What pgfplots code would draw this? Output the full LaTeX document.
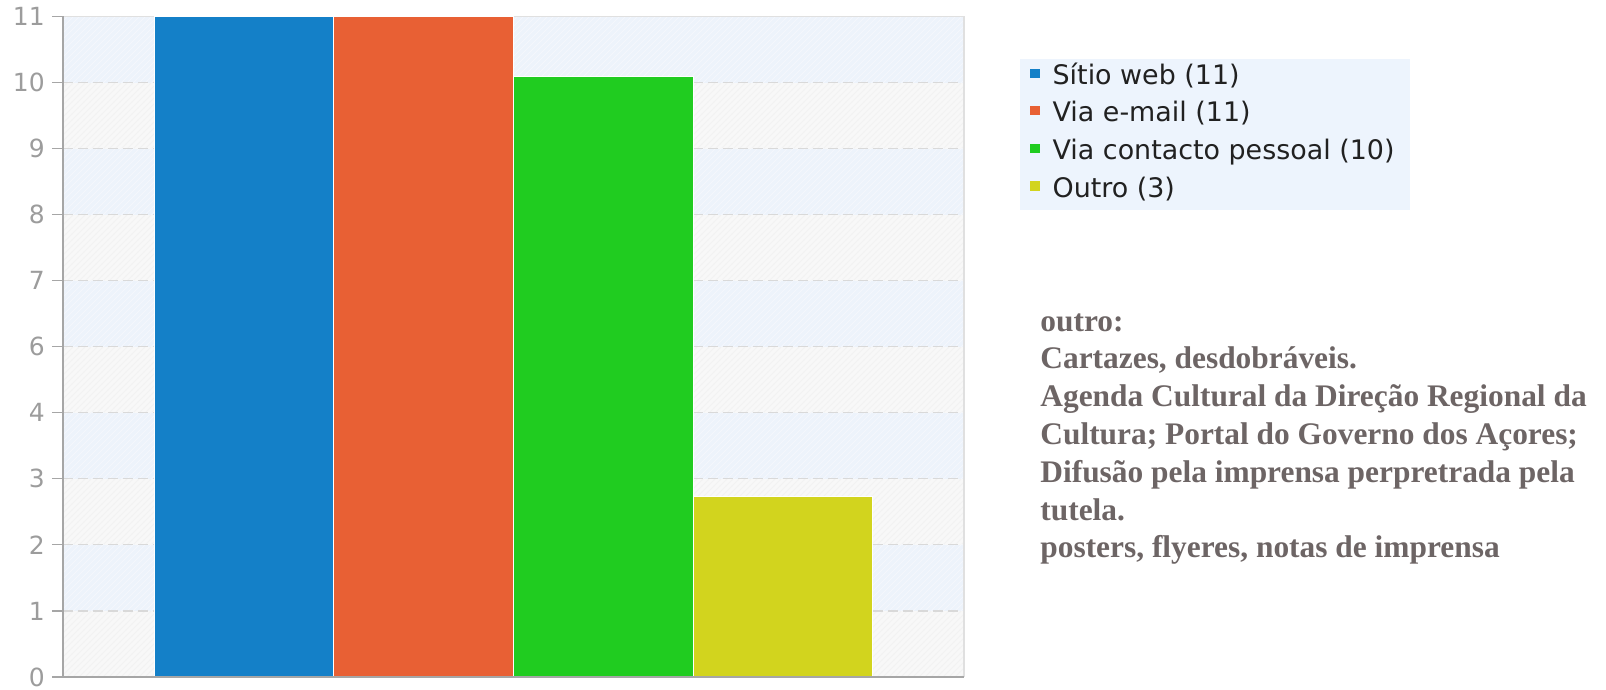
\documentclass[border=0pt]{standalone}
\usepackage{pgfplots}
\pgfplotsset{compat=1.18}
\usetikzlibrary{patterns}
\usepackage{fontspec}
\newfontfamily\dejavu{DejaVu Sans}
\newfontfamily\libserif{Liberation Serif}
\definecolor{cblue}{HTML}{1480C8}
\definecolor{corange}{HTML}{E86034}
\definecolor{cgreen}{HTML}{20CC20}
\definecolor{cyellow}{HTML}{D2D41E}
\definecolor{bandblue}{HTML}{EDF3FB}
\definecolor{bandgray}{HTML}{F8F8F8}
\definecolor{hatchc}{HTML}{F2F2F2}
\definecolor{hatchb}{HTML}{F4F7FC}
\definecolor{legbg}{HTML}{EDF4FD}
\definecolor{axgray}{HTML}{A6A6A6}
\definecolor{ticktext}{HTML}{9C9C9C}
\definecolor{gridc}{HTML}{D9D9D9}
\definecolor{borderc}{HTML}{E0E0E0}
\definecolor{notec}{HTML}{6D6565}
\begin{document}
\begin{tikzpicture}
\useasboundingbox (-31.5pt,-6.5pt) rectangle (771.5pt,338.5pt);
\begin{axis}[
  at={(0pt,0pt)}, anchor=south west,
  scale only axis, width=450.5pt, height=330.25pt,
  xmin=-1.007, xmax=4.007, ymin=0, ymax=11,
  xtick=\empty,
  ytick={0,1.1,2.2,3.3,4.4,5.5,6.6,7.7,8.8,9.9,11},
  yticklabels={0,1,2,3,4,6,7,8,9,10,11},
  yticklabel style={font=\dejavu\fontsize{12.5}{15}\selectfont, text=ticktext},
  axis on top,
  axis lines=left,
  axis line style={-, draw=axgray, line width=1.1pt},
  tick align=outside,
  major tick length=5.6pt,
  tick style={draw=axgray, line width=0.6pt},
  axis background/.style={fill=bandgray},
  clip=false,
  legend cell align=left,
  legend image code/.code={\fill[#1,draw=none] (0pt,-0.3pt) rectangle (4.6pt,4.3pt);},
  legend style={at={(1.0733,0.9280)}, anchor=north west, draw=none, fill=none,
    inner sep=0pt, row sep=6.0pt, column sep=6.5pt,
    font=\dejavu\fontsize{13.45}{16}\selectfont, text=black!87,
    nodes={inner sep=0pt, text height=9.9pt, text depth=2.9pt}},
]
\fill[pattern=north east lines, pattern color=hatchc] (axis cs:-1.007,0) rectangle (axis cs:4.007,11);
\fill[bandblue] (axis cs:-1.007,1.1) rectangle (axis cs:4.007,2.2);
\fill[bandblue] (axis cs:-1.007,3.3) rectangle (axis cs:4.007,4.4);
\fill[bandblue] (axis cs:-1.007,5.5) rectangle (axis cs:4.007,6.6);
\fill[bandblue] (axis cs:-1.007,7.7) rectangle (axis cs:4.007,8.8);
\fill[bandblue] (axis cs:-1.007,9.9) rectangle (axis cs:4.007,11);
\begin{scope}[pattern=north east lines, pattern color=hatchb]
\fill (axis cs:-1.007,1.1) rectangle (axis cs:4.007,2.2);
\fill (axis cs:-1.007,3.3) rectangle (axis cs:4.007,4.4);
\fill (axis cs:-1.007,5.5) rectangle (axis cs:4.007,6.6);
\fill (axis cs:-1.007,7.7) rectangle (axis cs:4.007,8.8);
\fill (axis cs:-1.007,9.9) rectangle (axis cs:4.007,11);
\end{scope}
\begin{scope}[gridc, line width=0.6pt, dash pattern=on 5pt off 2.5pt]
\draw (axis cs:-1.007,1.1) -- (axis cs:4.007,1.1);
\draw (axis cs:-1.007,2.2) -- (axis cs:4.007,2.2);
\draw (axis cs:-1.007,3.3) -- (axis cs:4.007,3.3);
\draw (axis cs:-1.007,4.4) -- (axis cs:4.007,4.4);
\draw (axis cs:-1.007,5.5) -- (axis cs:4.007,5.5);
\draw (axis cs:-1.007,6.6) -- (axis cs:4.007,6.6);
\draw (axis cs:-1.007,7.7) -- (axis cs:4.007,7.7);
\draw (axis cs:-1.007,8.8) -- (axis cs:4.007,8.8);
\draw (axis cs:-1.007,9.9) -- (axis cs:4.007,9.9);
\end{scope}
\draw[borderc, line width=0.8pt] (rel axis cs:0,1) -- (rel axis cs:1,1) -- (rel axis cs:1,0);
\fill[legbg] (rel axis cs:1.0622,0.7070) rectangle (rel axis cs:1.4950,0.9357);
\addplot[ybar, bar width=1, bar shift=0pt, fill=cblue, draw=white, line width=0.5pt] coordinates {(0,11)};
\addlegendentry{Sítio web (11)}
\addplot[ybar, bar width=1, bar shift=0pt, fill=corange, draw=white, line width=0.5pt] coordinates {(1,11)};
\addlegendentry{Via e-mail (11)}
\addplot[ybar, bar width=1, bar shift=0pt, fill=cgreen, draw=white, line width=0.5pt] coordinates {(2,10)};
\addlegendentry{Via contacto pessoal (10)}
\addplot[ybar, bar width=1, bar shift=0pt, fill=cyellow, draw=white, line width=0.5pt] coordinates {(3,3)};
\addlegendentry{Outro (3)}
\end{axis}
\begin{scope}[every node/.style={anchor=base west, inner sep=0pt, text=notec, font=\libserif\bfseries\fontsize{15.7}{18.9}\selectfont}]
\node at (488.5pt,172.9pt) {outro:};
\node at (488.5pt,154.0pt) {Cartazes, desdobráveis.};
\node at (488.5pt,135.1pt) {Agenda Cultural da Direção Regional da};
\node at (488.5pt,116.2pt) {Cultura; Portal do Governo dos Açores;};
\node at (488.5pt,97.3pt) {Difusão pela imprensa perpretrada pela};
\node at (488.5pt,78.4pt) {tutela.};
\node at (488.5pt,59.5pt) {posters, flyeres, notas de imprensa};
\end{scope}
\end{tikzpicture}
\end{document}
